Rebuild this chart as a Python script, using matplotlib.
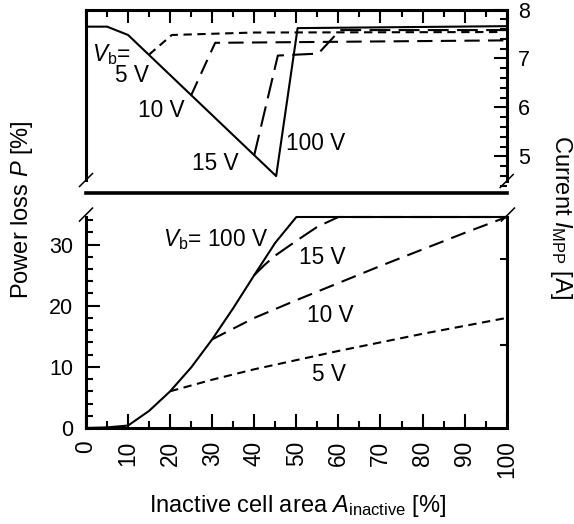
import matplotlib
matplotlib.use("Agg")
import matplotlib.pyplot as plt
from matplotlib.lines import Line2D
from matplotlib.ticker import MultipleLocator, FixedLocator, NullFormatter

plt.rcParams["font.family"] = ["Liberation Sans", "DejaVu Sans"]
plt.rcParams["mathtext.fontset"] = "custom"
plt.rcParams["mathtext.rm"] = "Liberation Sans"
plt.rcParams["mathtext.it"] = "Liberation Sans:italic"
plt.rcParams["lines.scale_dashes"] = False

# ---- top panel: current I_MPP [A] vs inactive area [%]
cur_100_x = [0, 5, 10, 45.2, 50.3, 100]
cur_100_y = [7.65, 7.65, 7.48, 4.60, 7.62, 7.66]
cur_5_x = [15, 20.4, 40, 97.5, 100]
cur_5_y = [7.08, 7.48, 7.53, 7.54, 7.60]
cur_10_x = [25, 30.7, 100]
cur_10_y = [6.25, 7.32, 7.37]
cur_15_x = [40, 45.6, 55.2, 60.4, 100]
cur_15_y = [5.03, 7.06, 7.10, 7.58, 7.58]

# ---- bottom panel: power loss P [%] vs inactive area [%]
pl_100_x = [0, 5, 10, 15, 20, 25, 30, 35, 40, 45, 50, 100]
pl_100_y = [0, 0.1, 0.4, 2.8, 6.0, 9.9, 14.5, 19.6, 25.0, 30.3, 34.5, 34.5]
pl_15_x = [40, 42.5, 45, 50, 55, 60, 100]
pl_15_y = [25.0, 26.7, 28.2, 30.6, 32.9, 34.5, 34.5]
pl_10_x = [30, 40, 50, 60, 70, 80, 90, 100]
pl_10_y = [14.5, 18.0, 20.9, 23.7, 26.5, 29.2, 31.9, 34.5]
pl_5_x = [20, 30, 40, 50, 60, 70, 80, 90, 100]
pl_5_y = [6.0, 7.9, 9.6, 11.1, 12.6, 14.0, 15.4, 16.7, 18.0]

W, H = 574, 524
fig = plt.figure(figsize=(W / 100, H / 100), dpi=100)
L, R = 86 / W, 420.7 / W
ax_t = fig.add_axes([L, (H - 193) / H, R, 183.5 / H])
ax_b = fig.add_axes([L, (H - 428) / H, R, 211 / H])

FS = 15.5     # tick labels
FX = 16.3     # rotated x tick labels
FA = 16.3     # curve annotations
FL = 17       # axis labels
lw = 1.5
dash5, dash10, dash15 = (0, (6, 4)), (0, (11, 6)), (0, (15, 6))

# top panel
ax_t.plot(cur_100_x, cur_100_y, "k-", lw=lw, clip_on=False)
ax_t.plot(cur_5_x, cur_5_y, color="k", lw=lw, ls=dash5)
ax_t.plot(cur_10_x, cur_10_y, color="k", lw=lw, ls=dash10)
ax_t.plot(cur_15_x, cur_15_y, color="k", lw=lw, ls=dash15)
ax_t.set_xlim(0, 100)
ax_t.set_ylim(4.255, 8.0)
for s in ax_t.spines.values():
    s.set_linewidth(2.2)
ax_t.spines["bottom"].set_linewidth(2.6)
ax_t.spines["left"].set_bounds(4.52, 8.0)
ax_t.spines["right"].set_bounds(4.50, 8.0)
ax_t.xaxis.set_major_locator(MultipleLocator(10))
ax_t.xaxis.set_minor_locator(MultipleLocator(5))
ax_t.tick_params(axis="x", which="both", direction="in", bottom=False, top=True,
                 labelbottom=False, labeltop=False)
ax_t.tick_params(axis="x", which="major", length=9.5, width=1.5)
ax_t.tick_params(axis="x", which="minor", length=5, width=1.5)
ax_t.yaxis.set_major_locator(MultipleLocator(1))
ax_t.yaxis.set_minor_locator(MultipleLocator(0.2))
ax_t.yaxis.set_minor_formatter(NullFormatter())
ax_t.tick_params(axis="y", which="both", direction="in", left=False, right=True,
                 labelleft=False, labelright=True, labelsize=FS, pad=8)
ax_t.tick_params(axis="y", which="major", length=9.5, width=1.5)
ax_t.tick_params(axis="y", which="minor", length=5, width=1.5)

ax_t.text(1.4, 7.09, r"$V_\mathrm{b}$=", fontsize=FA, va="center", ha="left")
ax_t.text(6.9, 6.66, "5 V", fontsize=FA, va="center", ha="left")
ax_t.text(12.4, 5.93, "10 V", fontsize=FA, va="center", ha="left")
ax_t.text(25.2, 4.86, "15 V", fontsize=FA, va="center", ha="left")
ax_t.text(47.6, 5.26, "100 V", fontsize=FA, va="center", ha="left")

# bottom panel
ax_b.plot(pl_100_x, pl_100_y, "k-", lw=lw, clip_on=False)
ax_b.plot(pl_15_x, pl_15_y, color="k", lw=lw, ls=dash15, clip_on=False)
ax_b.plot(pl_10_x, pl_10_y, color="k", lw=lw, ls=dash10, clip_on=False)
ax_b.plot(pl_5_x, pl_5_y, color="k", lw=lw, ls=dash5, clip_on=False)
ax_b.set_xlim(0, 100)
ax_b.set_ylim(0, 34.5)
for s in ax_b.spines.values():
    s.set_linewidth(2.2)
ax_b.spines["top"].set_visible(False)
ax_b.xaxis.set_major_locator(MultipleLocator(10))
ax_b.xaxis.set_minor_locator(MultipleLocator(5))
ax_b.tick_params(axis="x", which="both", direction="in", top=False,
                 labelsize=FX, labelrotation=90, pad=9)
ax_b.tick_params(axis="x", which="major", length=10, width=1.5)
ax_b.tick_params(axis="x", which="minor", length=5, width=1.5)
ax_b.yaxis.set_major_locator(MultipleLocator(10))
ax_b.yaxis.set_minor_locator(MultipleLocator(2))
ax_b.tick_params(axis="y", which="both", direction="in", right=False,
                 labelsize=FS, pad=9)
ax_b.tick_params(axis="y", which="major", length=10, width=1.5)
ax_b.tick_params(axis="y", which="minor", length=5, width=1.5)
# two short unlabelled ticks on the right spine
axr = ax_b.twinx()
axr.set_ylim(ax_b.get_ylim())
axr.yaxis.set_major_locator(FixedLocator([13.6, 27.65]))
axr.yaxis.set_minor_locator(FixedLocator([]))
axr.tick_params(axis="y", direction="in", length=5, width=1.5, labelright=False)
for s in axr.spines.values():
    s.set_visible(False)

ax_b.text(18.3, 30.8, r"$V_\mathrm{b}$= 100 V", fontsize=FA, va="center", ha="left")
ax_b.text(50.6, 27.9, "15 V", fontsize=FA, va="center", ha="left")
ax_b.text(52.5, 18.4, "10 V", fontsize=FA, va="center", ha="left")
ax_b.text(53.7, 8.7, "5 V", fontsize=FA, va="center", ha="left")

# break marks
def brk(ax, x, y):
    fig.canvas.draw()
    px, py = ax.transData.transform((x, y))
    fx, fy = px / W, py / H
    dx, dy = 6.5 / W, 6.5 / H
    fig.add_artist(Line2D([fx - dx, fx + dx], [fy - dy, fy + dy], color="k", lw=1.1))

brk(ax_t, 0, 4.52)
brk(ax_t, 100, 4.50)
brk(ax_b, 0, 34.9)
brk(ax_b, 100.3, 34.9)

fig.text(22 / W, 1 - 210 / H, r"Power loss $P$ [%]", rotation=90,
         ha="center", va="center", fontsize=FL)
fig.text(561 / W, 1 - 217 / H, r"Current $I_\mathrm{MPP}$ [A]", rotation=270,
         ha="center", va="center", fontsize=FL)
fig.text(298 / W, 1 - 506 / H, r"Inactive cell area $A_\mathrm{inactive}$ [%]",
         ha="center", va="center", fontsize=FL)

fig.savefig("out.png", dpi=100)
